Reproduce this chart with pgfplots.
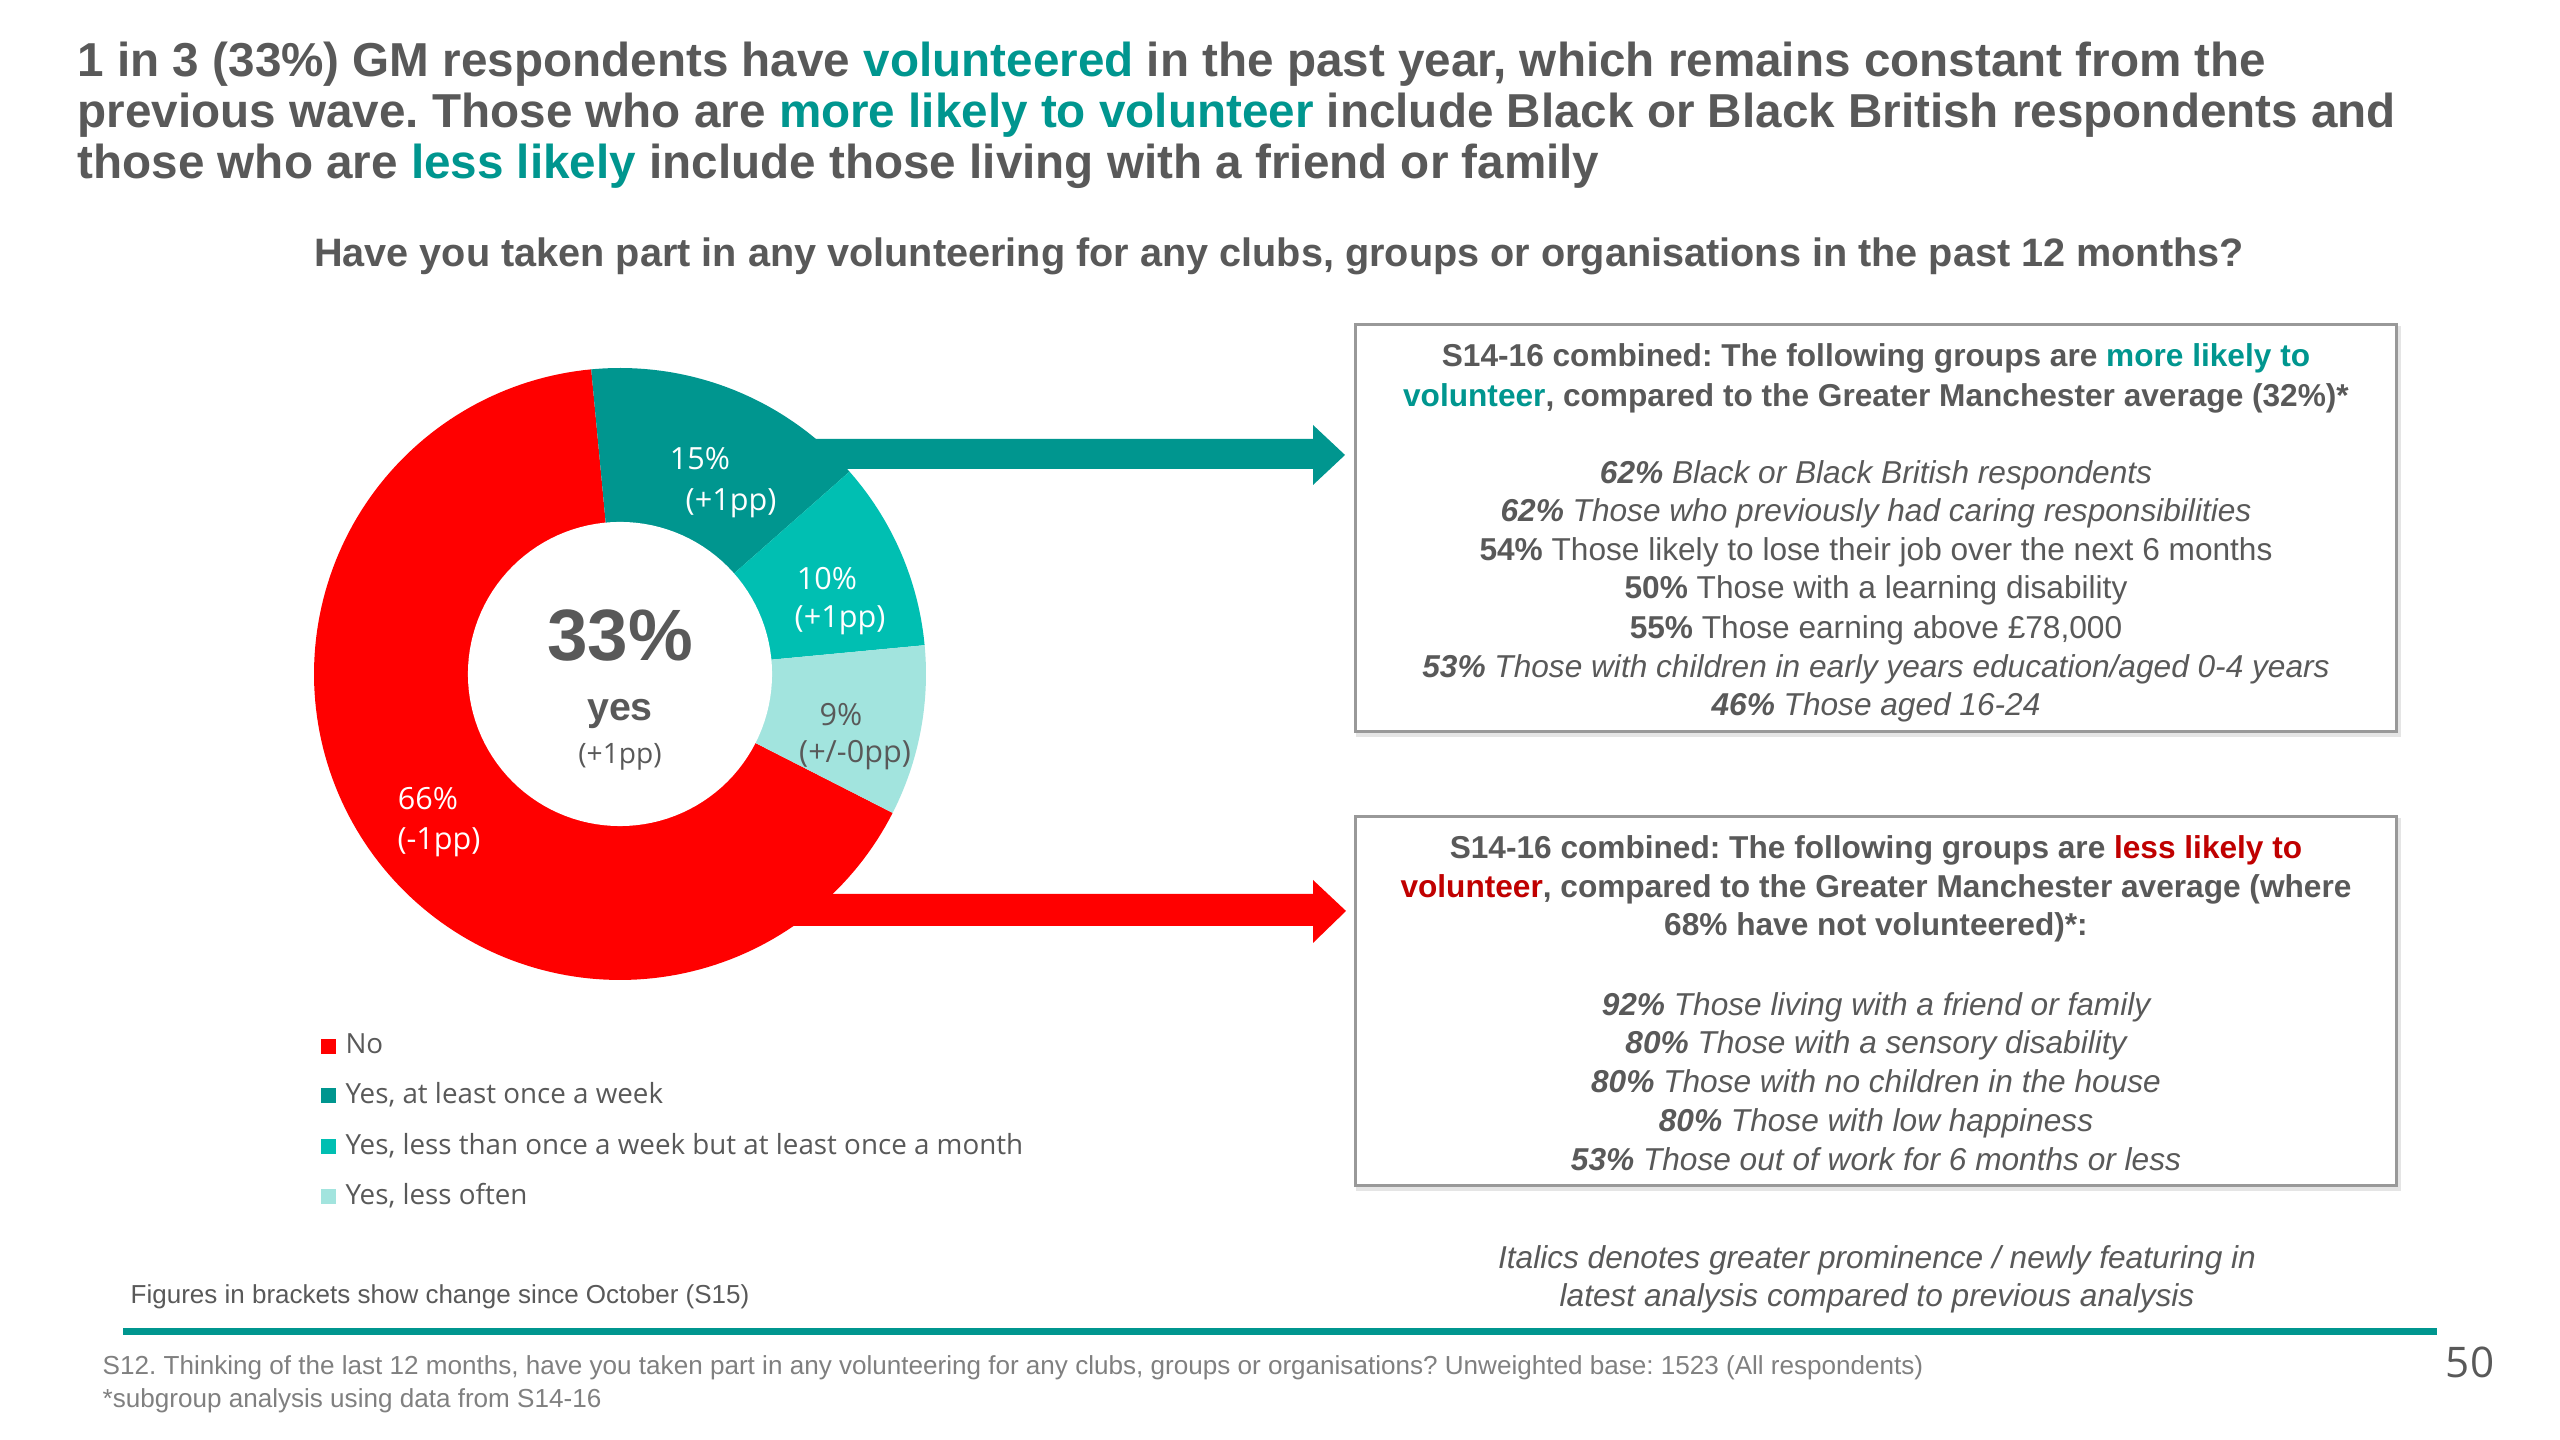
\documentclass[border=0pt]{standalone}
\usepackage{pgfplots}
\pgfplotsset{compat=1.18}
\usepackage{pgfplotstable}
\usepackage{fontspec}
\setmainfont{Liberation Sans}
\newfontfamily\os{Open Sans}
\frenchspacing
\definecolor{txt}{HTML}{595959}
\definecolor{tealD}{HTML}{00968F}
\definecolor{tealM}{HTML}{00BFB2}
\definecolor{tealL}{HTML}{A2E4DE}
\definecolor{redN}{HTML}{FF0000}
\definecolor{redT}{HTML}{C00000}
\definecolor{foot}{HTML}{808080}
\definecolor{boxc}{HTML}{999999}

\pgfplotstableread{
label value
No 66
Weekly 15
Monthly 10
Less 9
}\donut

\begin{document}
\begin{tikzpicture}[x=0.1mm,y=0.1mm]
\fill[white] (0,0) rectangle (2560,1440);
% angles from the data (clockwise from the top)
\pgfplotstablegetelem{0}{value}\of\donut\let\vNo\pgfplotsretval
\pgfplotstablegetelem{1}{value}\of\donut\let\vWk\pgfplotsretval
\pgfplotstablegetelem{2}{value}\of\donut\let\vMo\pgfplotsretval
\pgfplotstablegetelem{3}{value}\of\donut\let\vLe\pgfplotsretval
\pgfmathsetmacro\aS{95.4}
\pgfmathsetmacro\aW{\aS-3.6*\vWk}
\pgfmathsetmacro\aM{\aW-3.6*\vMo}
\pgfmathsetmacro\aL{\aM-3.6*\vLe}
\pgfmathsetmacro\aN{\aL-3.6*\vNo}

% title
\begin{scope}[every node/.style={anchor=base west, text=txt, inner sep=0pt, font=\bfseries\fontsize{13.55}{14.5}\selectfont}]
\node at (77,1363) {1 in 3 (33\%) GM respondents have \textcolor{tealD}{volunteered} in the past year, which remains constant from the};
\node at (77,1312) {previous wave. Those who are \textcolor{tealD}{more likely to volunteer} include Black or Black British respondents and};
\node at (77,1261) {those who are \textcolor{tealD}{less likely} include those living with a friend or family};
\end{scope}
\node[anchor=base, text=txt, inner sep=0pt, font=\bfseries\fontsize{11.28}{13}\selectfont] at (1279,1173) {Have you taken part in any volunteering for any clubs, groups or organisations in the past 12 months?};

% arrows
\fill[tealD] (700,1001) -- (1313,1001) -- (1313,1015) -- (1345,985) -- (1313,955) -- (1313,971) -- (700,971) -- cycle;
\fill[redN] (700,546) -- (1313,546) -- (1313,560) -- (1346,529) -- (1313,497) -- (1313,514) -- (700,514) -- cycle;

% donut
\begin{axis}[at={(62mm,76.6mm)}, anchor=center, scale only axis, width=61.2mm, height=61.2mm,
  xmin=-1, xmax=1, ymin=-1, ymax=1, hide axis, clip=false,
  legend style={at={(-0.0064,-0.068)}, anchor=north west, draw=none, fill=none,
    font=\os\fontsize{7.9}{9.5}\selectfont, text=txt, row sep=4.45pt, nodes={inner sep=1.2pt}},
  legend cell align=left,
  legend image code/.code={\draw[#1,draw=none] (0mm,-0.75mm) rectangle (1.5mm,0.75mm); \path (2mm,0mm);}]
\addplot[fill=redN, draw=none, domain=\aN:\aL, samples=160] ({cos(x)},{sin(x)}) -- (axis cs:0,0) -- cycle;
\addlegendentry{No}
\addplot[fill=tealD, draw=none, domain=\aW:\aS, samples=50] ({cos(x)},{sin(x)}) -- (axis cs:0,0) -- cycle;
\addlegendentry{Yes, at least once a week}
\addplot[fill=tealM, draw=none, domain=\aM:\aW, samples=40] ({cos(x)},{sin(x)}) -- (axis cs:0,0) -- cycle;
\addlegendentry{Yes, less than once a week but at least once a month}
\addplot[fill=tealL, draw=none, domain=\aL:\aM, samples=40] ({cos(x)},{sin(x)}) -- (axis cs:0,0) -- cycle;
\addlegendentry{Yes, less often}
\addplot[fill=white, draw=none, domain=0:360, samples=121, forget plot] ({0.497*cos(x)},{0.497*sin(x)}) -- cycle;
\end{axis}

% donut labels
\begin{scope}[every node/.style={anchor=center, inner sep=0pt, font=\os\fontsize{8.7}{10}\selectfont}]
\node[text=white] at (700,981) {15\%};
\node[text=white] at (731,937) {(+1pp)};
\node[text=white] at (827,861) {10\%};
\node[text=white] at (840,820) {(+1pp)};
\node[text=txt] at (841,725) {9\%};
\node[text=txt] at (855,685) {(+/-0pp)};
\node[text=white] at (428,641) {66\%};
\node[text=white] at (439,598) {(-1pp)};
\end{scope}
\node[text=txt, inner sep=0pt, font=\bfseries\fontsize{20.7}{24}\selectfont] at (620,804) {33\%};
\node[text=txt, inner sep=0pt, font=\bfseries\fontsize{11.2}{13}\selectfont] at (620,726) {yes};
\node[text=txt, inner sep=0pt, font=\os\fontsize{8}{10}\selectfont] at (620,683) {(+1pp)};

% box 1
\draw[black!10, line width=0.4mm] (1358,1112) rectangle (2399,705);
\draw[boxc, line width=0.3mm, fill=white] (1355,1115) rectangle (2396,708);
\begin{scope}[every node/.style={anchor=base, text=txt, inner sep=0pt, font=\fontsize{9}{11}\selectfont}]
\node[font=\bfseries\fontsize{9}{11}\selectfont] at (1876,1073) {S14-16 combined: The following groups are \textcolor{tealD}{more likely to}};
\node[font=\bfseries\fontsize{9}{11}\selectfont] at (1876,1033) {\textcolor{tealD}{volunteer}, compared to the Greater Manchester average (32\%)*};
\node at (1876,956) {\itshape\textbf{62\%} Black or Black British respondents};
\node at (1876,918) {\itshape\textbf{62\%} Those who previously had caring responsibilities};
\node at (1876,879) {\textbf{54\%} Those likely to lose their job over the next 6 months};
\node at (1876,841) {\textbf{50\%} Those with a learning disability};
\node at (1876,801) {\textbf{55\%} Those earning above £78,000};
\node at (1876,762) {\itshape\textbf{53\%} Those with children in early years education/aged 0-4 years};
\node at (1876,724) {\itshape\textbf{46\%} Those aged 16-24};
\end{scope}

% box 2
\draw[black!10, line width=0.4mm] (1358,620) rectangle (2399,251);
\draw[boxc, line width=0.3mm, fill=white] (1355,623) rectangle (2396,254);
\begin{scope}[every node/.style={anchor=base, text=txt, inner sep=0pt, font=\fontsize{9}{11}\selectfont}]
\node[font=\bfseries\fontsize{9}{11}\selectfont] at (1876,581) {S14-16 combined: The following groups are \textcolor{redT}{less likely to}};
\node[font=\bfseries\fontsize{9}{11}\selectfont] at (1876,542) {\textcolor{redT}{volunteer}, compared to the Greater Manchester average (where};
\node[font=\bfseries\fontsize{9}{11}\selectfont] at (1876,504) {68\% have not volunteered)*:};
\node at (1876,424) {\itshape\textbf{92\%} Those living with a friend or family};
\node at (1876,386) {\itshape\textbf{80\%} Those with a sensory disability};
\node at (1876,347) {\itshape\textbf{80\%} Those with no children in the house};
\node at (1876,308) {\itshape\textbf{80\%} Those with low happiness};
\node at (1876,269) {\itshape\textbf{53\%} Those out of work for 6 months or less};
\node[font=\itshape\fontsize{9}{11}\selectfont] at (1877,171) {Italics denotes greater prominence / newly featuring in};
\node[font=\itshape\fontsize{9}{11}\selectfont] at (1877,133) {latest analysis compared to previous analysis};
\end{scope}

% footer
\node[anchor=base west, text=txt, inner sep=0pt, font=\fontsize{7.4}{9}\selectfont] at (130,136) {Figures in brackets show change since October (S15)};
\draw[tealD, line width=0.7mm] (123,108) -- (2437,108);
\node[anchor=base west, text=foot, inner sep=0pt, font=\fontsize{7.42}{9}\selectfont] at (102,65) {S12. Thinking of the last 12 months, have you taken part in any volunteering for any clubs, groups or organisations? Unweighted base: 1523 (All respondents)};
\node[anchor=base west, text=foot, inner sep=0pt, font=\fontsize{7.42}{9}\selectfont] at (102,32) {*subgroup analysis using data from S14-16};
\node[anchor=base, text=txt, inner sep=0pt, font=\os\fontsize{12}{14}\selectfont] at (2470,62) {50};
\end{tikzpicture}
\end{document}
